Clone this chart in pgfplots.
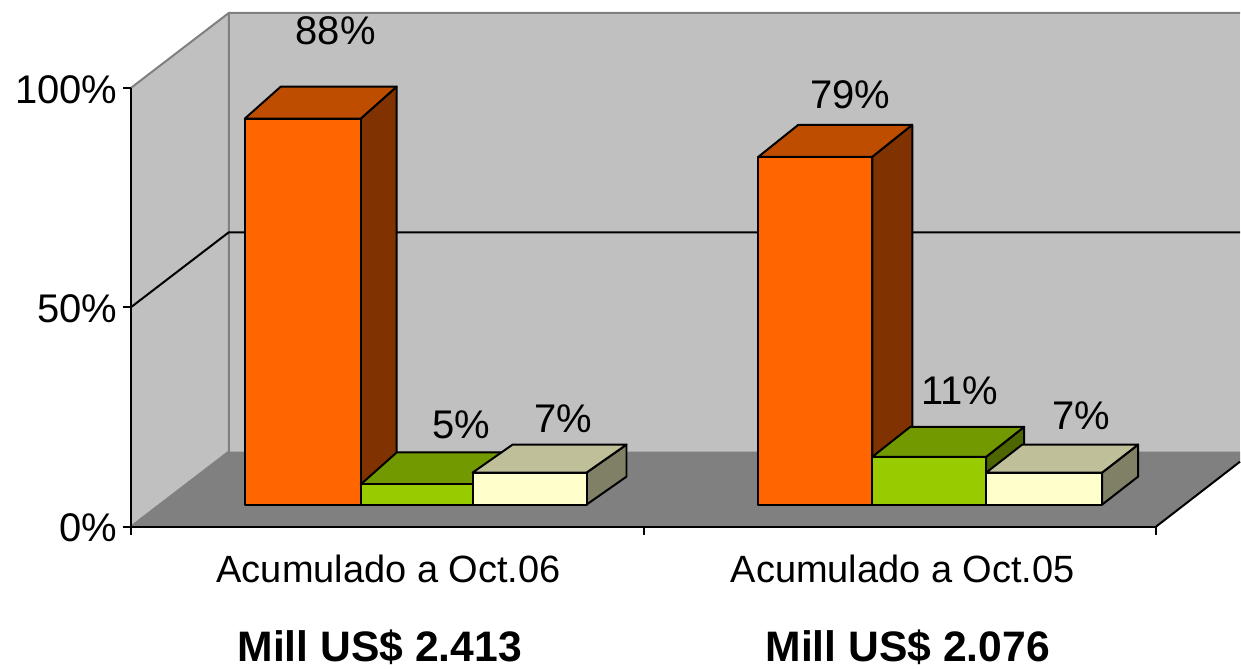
\documentclass[border=0pt]{standalone}
\usepackage{pgfplots}
\pgfplotsset{compat=1.18}
\usepackage{fontspec}
\setmainfont{Liberation Sans}
\definecolor{wall}{HTML}{C0C0C0}
\definecolor{floorc}{HTML}{808080}
\definecolor{oF}{HTML}{FF6600}\definecolor{oT}{HTML}{BF4D00}\definecolor{oS}{HTML}{803300}
\definecolor{gF}{HTML}{99CC00}\definecolor{gT}{HTML}{739900}\definecolor{gS}{HTML}{4D6600}
\definecolor{yF}{HTML}{FFFFCC}\definecolor{yT}{HTML}{BFBF99}\definecolor{yS}{HTML}{808066}
\newcommand{\numf}{\fontsize{30}{31}\selectfont}
\pgfplotsset{face/.style={fill=#1, draw=black, line width=1.5pt, line join=round, yshift=16.5pt}}
\begin{document}
\begin{tikzpicture}
\begin{axis}[
  scale only axis, width=769.5pt, height=329.25pt,
  xmin=131, xmax=1157, ymin=0, ymax=100,
  clip=false, axis on top,
  axis x line=bottom, axis y line=left,
  axis line style={black, line width=1.5pt, -},
  tick style={black, line width=1.5pt},
  major tick length=6pt,
  xtick={131,645,1157}, xticklabels={},
  ytick={0,50,100}, yticklabels={0\%,50\%,100\%},
  yticklabel style={font=\numf, inner sep=0pt, xshift=-4pt, yshift=-1pt},
  tick align=outside,
]
% page extent
\path (axis cs:0,-31.44) rectangle (axis cs:1241,120.05);
% walls and floor
\addplot[fill=wall, draw=none] coordinates {(131,0)(131,100)(229,117.1)(229,17.1)} --cycle;
\addplot[fill=wall, draw=none] coordinates {(229,17.1)(229,117.1)(1241,117.1)(1241,17.1)} --cycle;
\addplot[fill=floorc, draw=none] coordinates {(131,0)(229,17.1)(1241,17.1)(1241,14.8)(1157,0)} --cycle;
\addplot[draw=floorc, line width=1.5pt] coordinates {(131,100)(229,117.1)(1241,117.1)};
\addplot[draw=floorc, line width=1.5pt] coordinates {(131,0)(229,17.1)(229,117.1)};
\addplot[draw=black, line width=1.5pt] coordinates {(1157,0)(1241,14.8)};
% gridline at 50%
\addplot[draw=black, line width=1.5pt] coordinates {(131,50)(229,67.1)(1241,67.1)};
% Acumulado a Oct.06: 88 / 5 / 7
\addplot[face=oS] coordinates {(361,0)(397,7.29)(397,95.29)(361,88)} --cycle;
\addplot[face=oT] coordinates {(245,88)(361,88)(397,95.29)(281,95.29)} --cycle;
\addplot[face=oF] coordinates {(245,0)(361,0)(361,88)(245,88)} --cycle;
\addplot[face=gS] coordinates {(473,0)(509,7.29)(509,11.89)(473,4.6)} --cycle;
\addplot[face=gT] coordinates {(361,4.6)(473,4.6)(509,11.89)(397,11.89)} --cycle;
\addplot[face=gF] coordinates {(361,0)(473,0)(473,4.6)(361,4.6)} --cycle;
\addplot[face=yS] coordinates {(587,0)(627,6.38)(627,13.68)(587,7.3)} --cycle;
\addplot[face=yT] coordinates {(473,7.3)(587,7.3)(627,13.68)(513,13.68)} --cycle;
\addplot[face=yF] coordinates {(473,0)(587,0)(587,7.3)(473,7.3)} --cycle;
% Acumulado a Oct.05: 79 / 11 / 7
\addplot[face=oS] coordinates {(873,0)(913,7.29)(913,86.59)(873,79.3)} --cycle;
\addplot[face=oT] coordinates {(759,79.3)(873,79.3)(913,86.59)(799,86.59)} --cycle;
\addplot[face=oF] coordinates {(759,0)(873,0)(873,79.3)(759,79.3)} --cycle;
\addplot[face=gS] coordinates {(987,0)(1025,6.83)(1025,17.73)(987,10.9)} --cycle;
\addplot[face=gT] coordinates {(873,10.9)(987,10.9)(1025,17.73)(911,17.73)} --cycle;
\addplot[face=gF] coordinates {(873,0)(987,0)(987,10.9)(873,10.9)} --cycle;
\addplot[face=yS] coordinates {(1103,0)(1139,6.38)(1139,13.68)(1103,7.3)} --cycle;
\addplot[face=yT] coordinates {(987,7.3)(1103,7.3)(1139,13.68)(1023,13.68)} --cycle;
\addplot[face=yF] coordinates {(987,0)(1103,0)(1103,7.3)(987,7.3)} --cycle;
% value labels
\node[font=\numf] at (axis cs:336,113) {88\%};
\node[font=\numf] at (axis cs:461.5,23.1) {5\%};
\node[font=\numf] at (axis cs:564,24.7) {7\%};
\node[font=\numf] at (axis cs:851,98.4) {79\%};
\node[font=\numf] at (axis cs:960.5,30.9) {11\%};
\node[font=\numf] at (axis cs:1082,25.3) {7\%};
% category labels
\node[font=\fontsize{28.5}{30}\selectfont] at (axis cs:389,-9.6) {Acumulado a Oct.06};
\node[font=\fontsize{28.5}{30}\selectfont] at (axis cs:903.5,-9.6) {Acumulado a Oct.05};
\node[font=\fontsize{32}{34}\selectfont\bfseries] at (axis cs:380,-27.4) {Mill US\$ 2.413};
\node[font=\fontsize{32}{34}\selectfont\bfseries] at (axis cs:908.5,-27.4) {Mill US\$ 2.076};
\end{axis}
\end{tikzpicture}
\end{document}
